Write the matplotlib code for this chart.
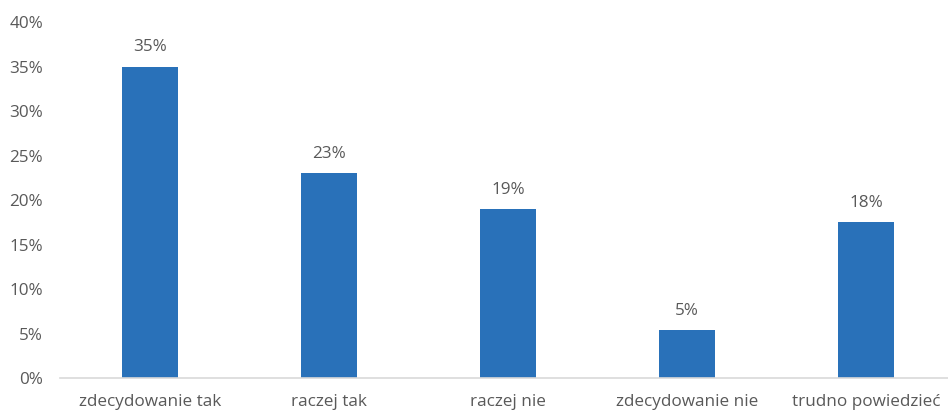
import matplotlib.pyplot as plt
from matplotlib.ticker import FuncFormatter

# Data
categories = ['zdecydowanie tak', 'raczej tak', 'raczej nie', 'zdecydowanie nie', 'trudno powiedzieć']
shares = [0.35, 0.23, 0.19, 0.054, 0.175]
share_labels = ['35%', '23%', '19%', '5%', '18%']

plt.rcParams['font.family'] = ['Open Sans', 'DejaVu Sans']
text_color = '#595959'

fig = plt.figure(figsize=(9.48, 4.11), dpi=100)
ax = fig.add_axes([0.0638, 0.0803, 0.944, 0.866])

x = range(len(categories))
bars = ax.bar(x, shares, width=0.31, color='#2971B9')

for bar, lab in zip(bars, share_labels):
    ax.annotate(lab, (bar.get_x() + bar.get_width() / 2, bar.get_height()),
                xytext=(0, 8), textcoords='offset points',
                ha='center', va='bottom', fontsize=12.3, color=text_color)

ax.set_xlim(-0.5, len(categories) - 0.5)
ax.set_ylim(0, 0.40)
ax.set_yticks([i * 0.05 for i in range(9)])
ax.yaxis.set_major_formatter(FuncFormatter(lambda v, p: f'{v * 100:.0f}%'))
ax.set_xticks(list(x))
ax.set_xticklabels(categories)

ax.tick_params(axis='both', length=0, labelsize=12.3, labelcolor=text_color)
ax.tick_params(axis='x', pad=11.5)
ax.tick_params(axis='y', pad=12.5)

for side in ['top', 'right', 'left']:
    ax.spines[side].set_visible(False)
ax.spines['bottom'].set_color('#D9D9D9')
ax.spines['bottom'].set_linewidth(1.2)

fig.savefig('out.png', dpi=100)
